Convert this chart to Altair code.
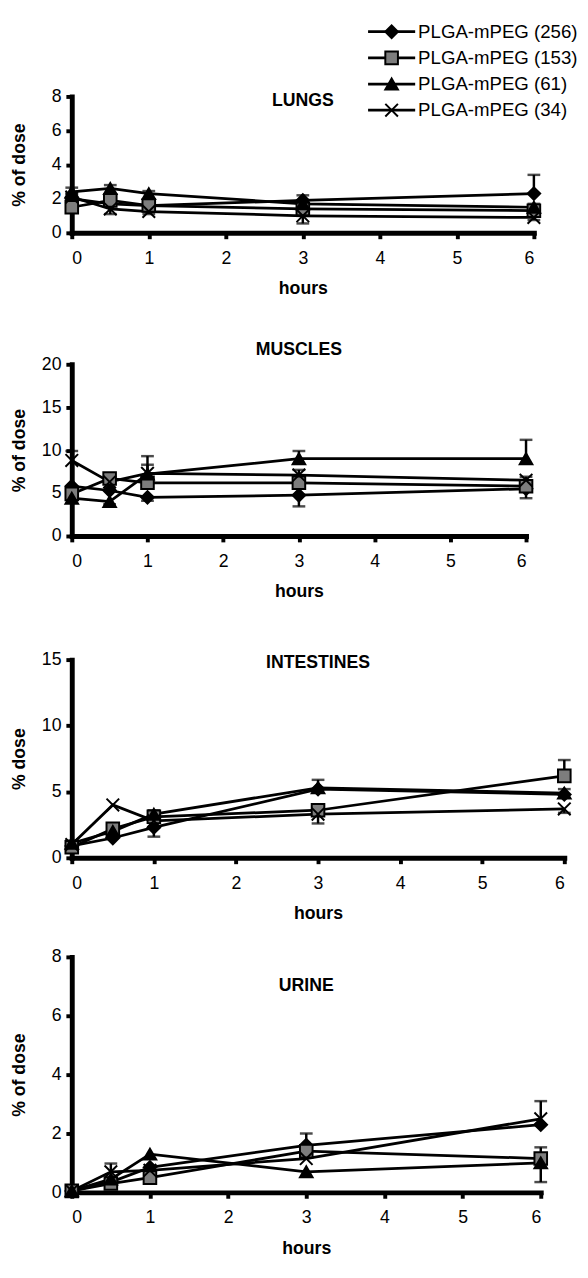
import altair as alt
import pandas as pd

FONT = "Liberation Sans"
SERIES = ["PLGA-mPEG (256)", "PLGA-mPEG (153)", "PLGA-mPEG (61)", "PLGA-mPEG (34)"]
HOURS = [0, 0.5, 1, 3, 6]
X_TICKS = [0, 1, 2, 3, 4, 5, 6]

# ---- data (% of dose); error arrays: + bar drawn upward, - bar drawn downward, 0 none
LUNGS = {
    "PLGA-mPEG (256)": [2.0, 1.7, 1.6, 1.9, 2.3],
    "PLGA-mPEG (153)": [1.5, 1.9, 1.6, 1.4, 1.3],
    "PLGA-mPEG (61)": [2.4, 2.6, 2.3, 1.7, 1.5],
    "PLGA-mPEG (34)": [2.1, 1.4, 1.25, 1.0, 0.9],
}
LUNGS_ERR = {
    "PLGA-mPEG (256)": [0.3, 0.0, 0.2, 0.3, 1.1],
    "PLGA-mPEG (153)": [-0.2, 0.2, 0.0, 0.3, 0.3],
    "PLGA-mPEG (61)": [0.25, 0.2, 0.15, 0.2, 0.2],
    "PLGA-mPEG (34)": [0.2, -0.3, -0.15, -0.45, -0.15],
}
MUSCLES = {
    "PLGA-mPEG (256)": [5.8, 5.3, 4.5, 4.75, 5.5],
    "PLGA-mPEG (153)": [4.9, 6.7, 6.2, 6.2, 5.8],
    "PLGA-mPEG (61)": [4.4, 4.0, 7.2, 9.0, 9.0],
    "PLGA-mPEG (34)": [8.8, 6.3, 7.3, 7.1, 6.5],
}
MUSCLES_ERR = {
    "PLGA-mPEG (256)": [0.0, 0.0, -0.4, -1.3, -1.1],
    "PLGA-mPEG (153)": [-0.5, 0.4, 0.0, 0.5, 0.3],
    "PLGA-mPEG (61)": [0.6, -0.3, 1.1, 0.9, 2.2],
    "PLGA-mPEG (34)": [1.1, 0.5, 2.0, 0.6, 0.4],
}
INTESTINES = {
    "PLGA-mPEG (256)": [0.9, 1.5, 2.3, 5.2, 4.8],
    "PLGA-mPEG (153)": [0.8, 2.2, 3.1, 3.6, 6.2],
    "PLGA-mPEG (61)": [1.1, 2.0, 3.3, 5.3, 4.9],
    "PLGA-mPEG (34)": [1.0, 4.0, 2.8, 3.3, 3.7],
}
INTESTINES_ERR = {
    "PLGA-mPEG (256)": [0.0, 0.0, -0.7, 0.0, 0.0],
    "PLGA-mPEG (153)": [0.0, 0.3, 0.0, 0.3, 1.2],
    "PLGA-mPEG (61)": [0.2, 0.0, 0.3, 0.6, 0.3],
    "PLGA-mPEG (34)": [0.0, 0.0, 0.0, -0.7, -0.3],
}
URINE = {
    "PLGA-mPEG (256)": [0.05, 0.35, 0.85, 1.6, 2.3],
    "PLGA-mPEG (153)": [0.05, 0.3, 0.5, 1.4, 1.15],
    "PLGA-mPEG (61)": [0.05, 0.45, 1.3, 0.7, 1.0],
    "PLGA-mPEG (34)": [0.05, 0.7, 0.75, 1.15, 2.5],
}
URINE_ERR = {
    "PLGA-mPEG (256)": [0.0, 0.0, 0.0, 0.4, 0.0],
    "PLGA-mPEG (153)": [0.0, 0.0, 0.0, 0.2, 0.38],
    "PLGA-mPEG (61)": [0.0, 0.0, 0.0, 0.0, -0.65],
    "PLGA-mPEG (34)": [0.0, 0.28, 0.0, 0.0, 0.6],
}

# ---- styles
SHAPES = ["diamond", "square", "triangle-up", "M-1,-1L1,1M-1,1L1,-1"]
FILLS = ["black", "#7d7d7d", "black", "black"]
shape_enc = alt.Shape("series:N", scale=alt.Scale(domain=SERIES, range=SHAPES), legend=None)
fill_enc = alt.Fill("series:N", scale=alt.Scale(domain=SERIES, range=FILLS), legend=None)
MARK_SIZE = 165


def make_df(vals, errs):
    rows = []
    for s in SERIES:
        for h, v, e in zip(HOURS, vals[s], errs[s]):
            rows.append({"series": s, "hours": h, "value": v, "err": e, "top": v + e})
    return pd.DataFrame(rows)


def panel(vals, errs, name, ymax, yticks, ytitle, title_dy):
    df = make_df(vals, errs)
    xs = alt.Scale(domain=[0, 6], nice=False)
    ys = alt.Scale(domain=[0, ymax], nice=False)
    xax = alt.Axis(values=X_TICKS, format="d", title="hours")
    yax = alt.Axis(values=yticks, format="d", title=ytitle)
    base = alt.Chart(df)
    lines = base.mark_line(color="black", strokeWidth=2.8).encode(
        x=alt.X("hours:Q", scale=xs, axis=xax),
        y=alt.Y("value:Q", scale=ys, axis=yax),
        detail="series:N",
    )
    eb = base.transform_filter("datum.err != 0")
    rules = eb.mark_rule(color="black", strokeWidth=2.5).encode(
        x=alt.X("hours:Q", scale=xs, axis=xax),
        y=alt.Y("value:Q", scale=ys, axis=yax),
        y2="top:Q",
    )
    caps = eb.mark_tick(color="black", orient="horizontal", size=13, thickness=2.5).encode(
        x=alt.X("hours:Q", scale=xs, axis=xax),
        y=alt.Y("top:Q", scale=ys, axis=yax),
    )
    pts = base.mark_point(filled=True, stroke="black", strokeWidth=2, size=MARK_SIZE, opacity=1).encode(
        x=alt.X("hours:Q", scale=xs, axis=xax),
        y=alt.Y("value:Q", scale=ys, axis=yax),
        shape=shape_enc,
        fill=fill_enc,
    )
    ttl = alt.Chart(pd.DataFrame({"t": [name]})).mark_text(
        fontSize=18, fontWeight="bold", font=FONT, baseline="middle", align="center", color="black"
    ).encode(x=alt.datum(3), y=alt.value(title_dy), text="t:N")
    return alt.layer(lines, rules, caps, pts, ttl)


# ---- legend (drawn above the lungs panel)
leg = alt.Chart(pd.DataFrame({"series": SERIES}))
ly = alt.Y("series:N", sort=SERIES, scale=alt.Scale(type="point", range=[-66, 14], padding=0), axis=None)
leg_line = leg.mark_rule(color="black", strokeWidth=2.8).encode(y=ly, x=alt.value(302), x2=alt.value(350))
leg_pt = leg.mark_point(filled=True, stroke="black", strokeWidth=2, size=MARK_SIZE, opacity=1).encode(
    y=ly, x=alt.value(326), shape=shape_enc, fill=fill_enc
)
leg_tx = leg.mark_text(align="left", baseline="middle", fontSize=19, font=FONT, color="black").encode(
    y=ly, x=alt.value(353), text="series:N"
)
legend = alt.layer(leg_line, leg_pt, leg_tx)

lungs = alt.layer(
    panel(LUNGS, LUNGS_ERR, "LUNGS", 8, [0, 2, 4, 6, 8], "% of dose", 5), legend
).resolve_scale(y="independent").properties(width=471, height=139)
muscles = panel(MUSCLES, MUSCLES_ERR, "MUSCLES", 20, [0, 5, 10, 15, 20], "% of dose", -14).properties(
    width=463, height=175
)
intestines = panel(INTESTINES, INTESTINES_ERR, "INTESTINES", 15, [0, 5, 10, 15], "% dose", 4).properties(
    width=502, height=202
)
urine = panel(URINE, URINE_ERR, "URINE", 8, [0, 2, 4, 6, 8], "% of dose", 30).properties(
    width=478, height=240
)


def spacer(h):
    return alt.Chart(pd.DataFrame({"a": [0]})).mark_point(opacity=0).encode(
        x=alt.value(0), y=alt.value(0)
    ).properties(width=10, height=h)


chart = alt.vconcat(
    lungs, spacer(134), muscles, spacer(126), intestines, spacer(101), urine,
    spacing=0, bounds="flush",
).properties(
    padding={"top": 1, "left": 2, "right": 2, "bottom": 2}
).configure_view(stroke=None).configure_axis(
    domainColor="black", domainWidth=5, domainCap="square",
    tickColor="black", tickWidth=4, tickSize=6,
    labelFont=FONT, labelFontSize=18, labelColor="black",
    titleFont=FONT, titleFontSize=18, titleFontWeight="bold", titleColor="black",
    grid=False,
).configure_axisX(
    labelPadding=11, titleY=57, titleBaseline="middle"
).configure_axisY(
    labelPadding=5, titleX=-53, titleBaseline="middle"
).configure_text(font=FONT)

chart.save("out.html", embed_options={"renderer": "svg", "actions": False})
